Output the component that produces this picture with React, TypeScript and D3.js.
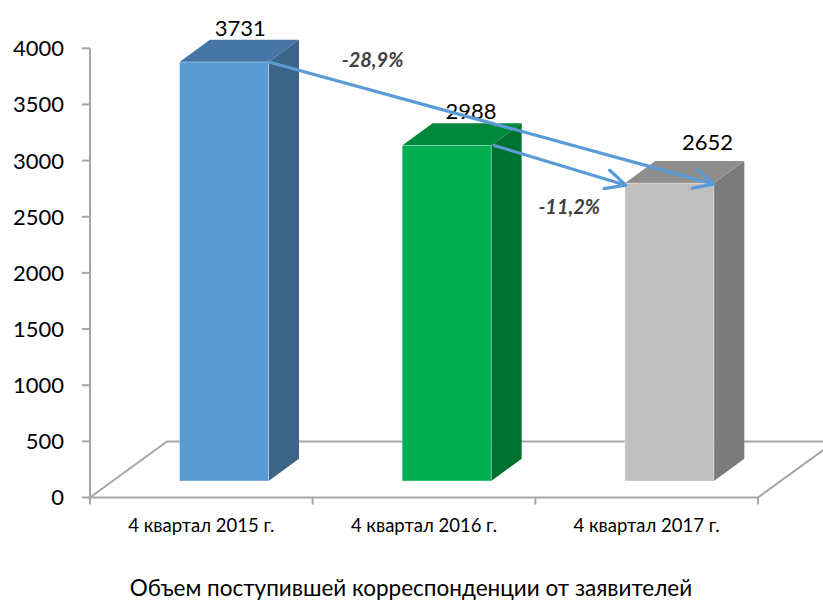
import React, { useRef, useEffect } from 'react';
import * as d3 from 'd3';

const categories = ['4 квартал 2015 г.', '4 квартал 2016 г.', '4 квартал 2017 г.'];
const values = [3731, 2988, 2652];
const yTicks = [0, 500, 1000, 1500, 2000, 2500, 3000, 3500, 4000];
const frontColors = ['#5B9BD5', '#00B050', '#BFBFBF'];
const sideColors = ['#3B6487', '#00722F', '#7B7B7B'];
const topColors = ['#4776A6', '#00883C', '#8E8E8E'];
const title = 'Объем поступившей корреспонденции от заявителей';

const FONT = "Lato, 'Open Sans', sans-serif";

const pct = (from: number, to: number) =>
  (((to - from) / from) * 100).toFixed(1).replace('.', ',') + '%';

const App = () => {
  const ref = useRef<SVGSVGElement>(null);

  useEffect(() => {
    const svg = d3.select(ref.current);
    svg.selectAll('*').remove();

    const y = d3.scaleLinear().domain([0, 4000]).range([497.5, 48.3]);
    const x = d3.scaleBand().domain(categories).range([90, 758]);
    const bw = x.bandwidth() * 0.4;
    // floor depth vector (3d look) and where the bars sit in it
    const depth = [77, -56];
    const f0 = 0.295;
    const f1 = 0.69;
    const dx = depth[0] * (f1 - f0);
    const dy = depth[1] * (f1 - f0);
    const gray = '#A6A6A6';

    // floor
    const x0 = x.range()[0];
    const x1 = x.range()[1];
    svg
      .append('path')
      .attr(
        'd',
        `M${x0},${y(0)}L${x1},${y(0)}L${x1 + depth[0]},${y(0) + depth[1]}L${x0 + depth[0]},${y(0) + depth[1]}Z`
      )
      .attr('fill', 'none')
      .attr('stroke', gray)
      .attr('stroke-width', 2);

    // y axis
    svg
      .append('line')
      .attr('x1', x0)
      .attr('x2', x0)
      .attr('y1', y(4000))
      .attr('y2', y(0))
      .attr('stroke', gray)
      .attr('stroke-width', 2);
    const yt = svg.selectAll('.ytick').data(yTicks).enter().append('g').attr('class', 'ytick');
    yt.append('line')
      .attr('x1', x0 - 8)
      .attr('x2', x0)
      .attr('y1', (d) => y(d))
      .attr('y2', (d) => y(d))
      .attr('stroke', gray)
      .attr('stroke-width', 2);
    yt.append('text')
      .attr('x', x0 - 26)
      .attr('y', (d) => y(d))
      .attr('dy', '0.36em')
      .attr('text-anchor', 'end')
      .style('font-family', FONT)
      .style('font-size', '22px')
      .attr('fill', '#000')
      .text((d) => d);

    // category ticks + labels
    const catTicks = [...categories.map((c) => x(c) as number), x1];
    svg
      .selectAll('.xtick')
      .data(catTicks)
      .enter()
      .append('line')
      .attr('x1', (d) => d)
      .attr('x2', (d) => d)
      .attr('y1', y(0))
      .attr('y2', y(0) + 7)
      .attr('stroke', gray)
      .attr('stroke-width', 2);
    svg
      .selectAll('.xlabel')
      .data(categories)
      .enter()
      .append('text')
      .attr('x', (d) => (x(d) as number) + x.bandwidth() / 2)
      .attr('y', 532)
      .attr('text-anchor', 'middle')
      .style('font-family', FONT)
      .style('font-size', '18.5px')
      .attr('fill', '#000')
      .text((d) => d);

    // bars
    const geo = values.map((v, i) => {
      const xf = (x(categories[i]) as number) + x.bandwidth() / 2 - bw / 2 + depth[0] * f0;
      const top = y(v) + depth[1] * f0;
      const base = y(0) + depth[1] * f0;
      return { xf, top, base };
    });

    const bars = svg.selectAll('.bar').data(values).enter().append('g').attr('class', 'bar');
    bars
      .append('path')
      .attr('d', (d, i) => {
        const g = geo[i];
        return `M${g.xf + bw},${g.top}L${g.xf + bw + dx},${g.top + dy}L${g.xf + bw + dx},${g.base + dy}L${g.xf + bw},${g.base}Z`;
      })
      .attr('fill', (d, i) => sideColors[i]);
    bars
      .append('path')
      .attr('d', (d, i) => {
        const g = geo[i];
        return `M${g.xf},${g.top}L${g.xf + bw},${g.top}L${g.xf + bw + dx},${g.top + dy}L${g.xf + dx},${g.top + dy}Z`;
      })
      .attr('fill', (d, i) => topColors[i]);
    bars
      .append('rect')
      .attr('x', (d, i) => geo[i].xf)
      .attr('y', (d, i) => geo[i].top)
      .attr('width', bw)
      .attr('height', (d, i) => geo[i].base - geo[i].top)
      .attr('fill', (d, i) => frontColors[i])
      .attr('stroke', 'rgba(255,255,255,0.35)')
      .attr('stroke-width', 1);

    // value labels
    const nudgeX = [1, 9, 23];
    const nudgeY = [0, 0, -7];
    bars
      .append('text')
      .attr('x', (d, i) => geo[i].xf + bw / 2 + dx / 2 + nudgeX[i])
      .attr('y', (d, i) => geo[i].top + dy - 4 + nudgeY[i])
      .attr('text-anchor', 'middle')
      .style('font-family', FONT)
      .style('font-size', '22px')
      .attr('fill', '#000')
      .text((d) => d);

    // arrows
    const arrowColor = '#5B9BD5';
    const drawArrow = (sx: number, sy: number, ex: number, ey: number) => {
      const a = Math.atan2(ey - sy, ex - sx) + Math.PI;
      const len = 22;
      const sp = (26 * Math.PI) / 180;
      const w1 = [ex + len * Math.cos(a + sp), ey + len * Math.sin(a + sp)];
      const w2 = [ex + len * Math.cos(a - sp), ey + len * Math.sin(a - sp)];
      svg
        .append('path')
        .attr('d', `M${sx},${sy}L${ex},${ey}M${w1[0]},${w1[1]}L${ex},${ey}L${w2[0]},${w2[1]}`)
        .attr('fill', 'none')
        .attr('stroke', arrowColor)
        .attr('stroke-width', 3.2)
        .attr('stroke-linecap', 'round')
        .attr('stroke-linejoin', 'round');
    };
    drawArrow(geo[0].xf + bw, geo[0].top, geo[2].xf + bw, geo[2].top + 1);
    drawArrow(geo[1].xf + bw + 3, geo[1].top, geo[2].xf + 1, geo[2].top + 2);

    const ann = [
      { text: pct(values[0], values[2]), x: geo[0].xf + bw + 104, y: geo[0].top + 5 },
      { text: pct(values[1], values[2]), x: geo[1].xf + bw + 78, y: geo[1].top + 69 },
    ];
    svg
      .selectAll('.ann')
      .data(ann)
      .enter()
      .append('text')
      .attr('x', (d) => d.x)
      .attr('y', (d) => d.y)
      .attr('text-anchor', 'middle')
      .style('font-family', FONT)
      .style('font-size', '20px')
      .style('font-weight', 'bold')
      .style('font-style', 'italic')
      .attr('fill', '#404040')
      .text((d) => d.text);

    // title
    svg
      .append('text')
      .attr('x', 411)
      .attr('y', 596)
      .attr('text-anchor', 'middle')
      .style('font-family', FONT)
      .style('font-size', '22.5px')
      .attr('fill', '#000')
      .text(title);
  }, []);

  return (
    <svg
      ref={ref}
      width={823}
      height={601}
      style={{ position: 'absolute', left: 0, top: 0, background: '#fff' }}
    ></svg>
  );
};

export default App;
